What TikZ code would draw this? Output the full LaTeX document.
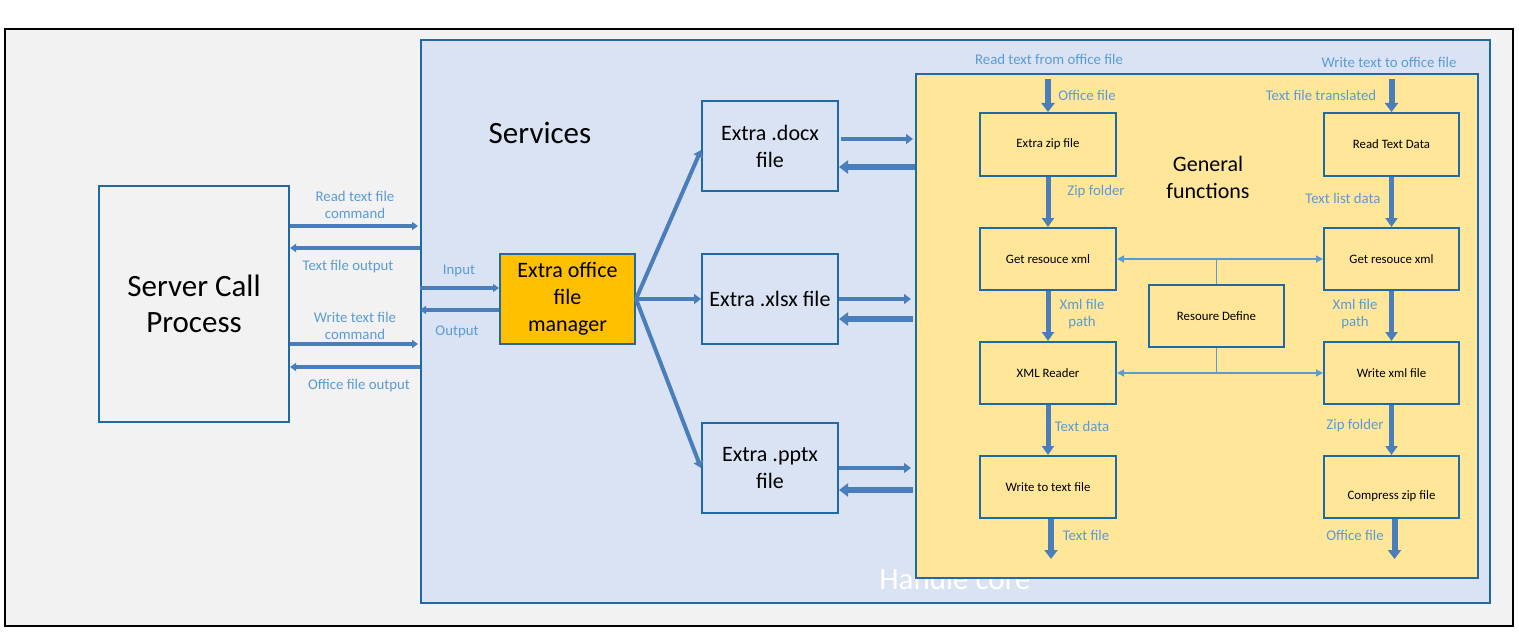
\documentclass[tikz,border=0pt]{standalone}
\usepackage{fontspec}
\setmainfont{Carlito}
\usetikzlibrary{arrows.meta,calc}
\definecolor{bord}{RGB}{31,106,165}
\definecolor{arrc}{RGB}{74,126,187}
\definecolor{lblc}{RGB}{91,155,213}
\definecolor{svcfill}{RGB}{218,227,243}
\definecolor{yel}{RGB}{255,230,153}
\definecolor{org}{RGB}{255,192,0}
\definecolor{outfill}{RGB}{242,242,242}
\begin{document}
\begin{tikzpicture}[x=1pt,y=-1pt,
  box/.style={draw=bord,line width=2pt,inner sep=0pt,align=center},
  lbl/.style={text=lblc,font=\fontsize{14.8}{17}\selectfont,align=center,inner sep=0pt},
  smalltxt/.style={font=\fontsize{12.8}{15}\selectfont},
  bigtxt/.style={font=\fontsize{22}{27}\selectfont},
  hugetxt/.style={font=\fontsize{31}{36}\selectfont},
  sarr/.style={draw=arrc,line width=3.5pt,-{Triangle[width=8pt,length=6pt]}},
  marr/.style={draw=arrc,line width=4pt,-{Triangle[width=10pt,length=7pt]}},
  warr/.style={draw=arrc,line width=6pt,-{Triangle[width=13pt,length=9pt]}},
  varr/.style={draw=arrc,line width=5pt,-{Triangle[width=12pt,length=9pt]}},
  tarr/.style={draw=lblc,line width=1.3pt,-{Triangle[width=7pt,length=7pt]}},
  tline/.style={draw=lblc,line width=1.3pt}
]
\useasboundingbox (0,0) rectangle (1519,634);
% frames
\node[draw=black,line width=2pt,fill=outfill,minimum width=1508pt,minimum height=597pt,inner sep=0pt] (outer) at (759,327.5) {};
\node[box,fill=svcfill,minimum width=1069pt,minimum height=563pt] (svc) at (955.5,321.5) {};
\node[text=white,hugetxt,inner sep=0pt] (hc) at (955,579) {Handle core};
\node[box,fill=yel,minimum width=562pt,minimum height=504pt] (gen) at (1197,326) {};
\node[hugetxt,inner sep=0pt] (svct) at (540,133) {Services};
\node[bigtxt,align=center,inner sep=0pt] (gent) at (1208,177.5) {General\\functions};
% main boxes
\node[box,minimum width=190pt,minimum height=236pt,hugetxt] (srv) at (194,304) {Server Call\\Process};
\node[box,fill=org,minimum width=135pt,minimum height=90pt,bigtxt] (mgr) at (567.5,299) {Extra office\\file\\manager};
\node[box,minimum width=136pt,minimum height=90pt,bigtxt] (docx) at (770,146) {Extra .docx\\file};
\node[box,minimum width=136pt,minimum height=90pt,bigtxt] (xlsx) at (770,299) {Extra .xlsx file};
\node[box,minimum width=136pt,minimum height=90pt,bigtxt] (pptx) at (770,468) {Extra .pptx\\file};
% inner boxes
\node[box,smalltxt,minimum width=136pt,minimum height=63pt] (ezip) at (1048,144.5) {Extra zip file};
\node[box,smalltxt,minimum width=136pt,minimum height=62pt] (grx1) at (1048,259) {Get resouce xml};
\node[box,smalltxt,minimum width=136pt,minimum height=62pt] (xmlr) at (1048,373) {XML Reader};
\node[box,smalltxt,minimum width=136pt,minimum height=62pt] (wtf) at (1048,487) {Write to text file};
\node[box,smalltxt,minimum width=135pt,minimum height=63pt] (rtd) at (1391.5,144.5) {Read Text Data};
\node[box,smalltxt,minimum width=135pt,minimum height=62pt] (grx2) at (1391.5,259) {Get resouce xml};
\node[box,smalltxt,minimum width=135pt,minimum height=62pt] (wxf) at (1391.5,373) {Write xml file};
\node[box,smalltxt,minimum width=135pt,minimum height=62pt] (czf) at (1391.5,487) {\raisebox{-12pt}[0pt][0pt]{Compress zip file}};
\node[box,smalltxt,minimum width=135pt,minimum height=62pt] (rdef) at (1216.5,316) {Resoure Define};
% server <-> services
\coordinate (a1) at ([yshift=78pt]srv.east);
\coordinate (a2) at ([yshift=56pt]srv.east);
\coordinate (a3) at ([yshift=-40pt]srv.east);
\coordinate (a4) at ([yshift=-63pt]srv.east);
\draw[sarr] (a1) -- ([xshift=-2pt]a1 -| svc.west);
\draw[sarr] (a2 -| svc.west) -- (a2);
\draw[sarr] (a3) -- ([xshift=-2pt]a3 -| svc.west);
\draw[sarr] (a4 -| svc.west) -- (a4);
% services <-> manager
\coordinate (b1) at ([yshift=11pt]mgr.west);
\coordinate (b2) at ([yshift=-11pt]mgr.west);
\draw[sarr] (b1 -| svc.west) -- (b1);
\draw[sarr] (b2) -- (b2 -| svc.west);
% manager -> file boxes
\draw[marr] (mgr.east) -- ([yshift=-4pt]docx.west);
\draw[marr] (mgr.east) -- (xlsx.west);
\draw[marr] (mgr.east) -- (pptx.west);
% file boxes <-> general functions
\coordinate (c1) at ([yshift=7pt]docx.east);
\coordinate (c2) at ([yshift=-21pt]docx.east);
\coordinate (c3) at (xlsx.east);
\coordinate (c4) at ([yshift=-20pt]xlsx.east);
\coordinate (c5) at (pptx.east);
\coordinate (c6) at ([yshift=-22pt]pptx.east);
\draw[marr] ([xshift=2pt]c1) -- ([xshift=-2pt]c1 -| gen.west);
\draw[warr] (c2 -| gen.west) -- (c2);
\draw[marr] (c3) -- ([xshift=-4pt]c3 -| gen.west);
\draw[warr] ([xshift=-2pt]c4 -| gen.west) -- (c4);
\draw[marr] (c5) -- ([xshift=-4pt]c5 -| gen.west);
\draw[warr] ([xshift=-2pt]c6 -| gen.west) -- (c6);
% vertical flows, left column
\coordinate (t1) at ([yshift=33pt]ezip.north);
\draw[warr] (t1) -- (ezip.north);
\draw[varr] (ezip.south) -- (grx1.north);
\draw[varr] (grx1.south) -- (xmlr.north);
\draw[varr] (xmlr.south) -- (wtf.north);
\coordinate (o1) at ([xshift=3pt,yshift=-40pt]wtf.south);
\draw[warr] ([xshift=3pt]wtf.south) -- (o1);
% vertical flows, right column
\coordinate (t2) at ([yshift=33pt]rtd.north);
\draw[warr] (t2) -- (rtd.north);
\draw[varr] (rtd.south) -- (grx2.north);
\draw[varr] (grx2.south) -- (wxf.north);
\draw[varr] (wxf.south) -- (czf.north);
\coordinate (o2) at ([xshift=3pt,yshift=-40pt]czf.south);
\draw[warr] ([xshift=3pt]czf.south) -- (o2);
% resource define links
\coordinate (rt) at (rdef.north |- grx1.east);
\coordinate (rb) at (rdef.south |- xmlr.east);
\draw[tline] (rdef.north) -- (rt);
\draw[tarr] (rt) -- (grx1.east);
\draw[tarr] (rt) -- (grx2.west);
\draw[tline] (rdef.south) -- (rb);
\draw[tarr] (rb) -- (xmlr.east);
\draw[tarr] (rb) -- (wxf.west);
% labels
\node[lbl] (l1) at (355,204.5) {Read text file\\command};
\node[lbl] (l2) at (348,267) {Text file output};
\node[lbl] (l3) at (459,271) {Input};
\node[lbl] (l4) at (457,332) {Output};
\node[lbl] (l5) at (355,326) {Write text file\\command};
\node[lbl] (l6) at (359,386) {Office file output};
\node[lbl] (l7) at (1049,59) {Read text from office file};
\node[lbl] (l8) at (1389,62) {Write text to office file};
\node[lbl] (l9) at (1087,95) {Office file};
\node[lbl] (l10) at (1321,95) {Text file translated};
\node[lbl] (l11) at (1096,192) {Zip folder};
\node[lbl] (l12) at (1343,198) {Text list data};
\node[lbl] (l13) at (1082,314) {Xml file\\path};
\node[lbl] (l14) at (1355,314) {Xml file\\path};
\node[lbl] (l15) at (1082,426) {Text data};
\node[lbl] (l16) at (1355,426) {Zip folder};
\node[lbl] (l17) at (1086,535) {Text file};
\node[lbl] (l18) at (1355,535) {Office file};
\end{tikzpicture}
\end{document}
